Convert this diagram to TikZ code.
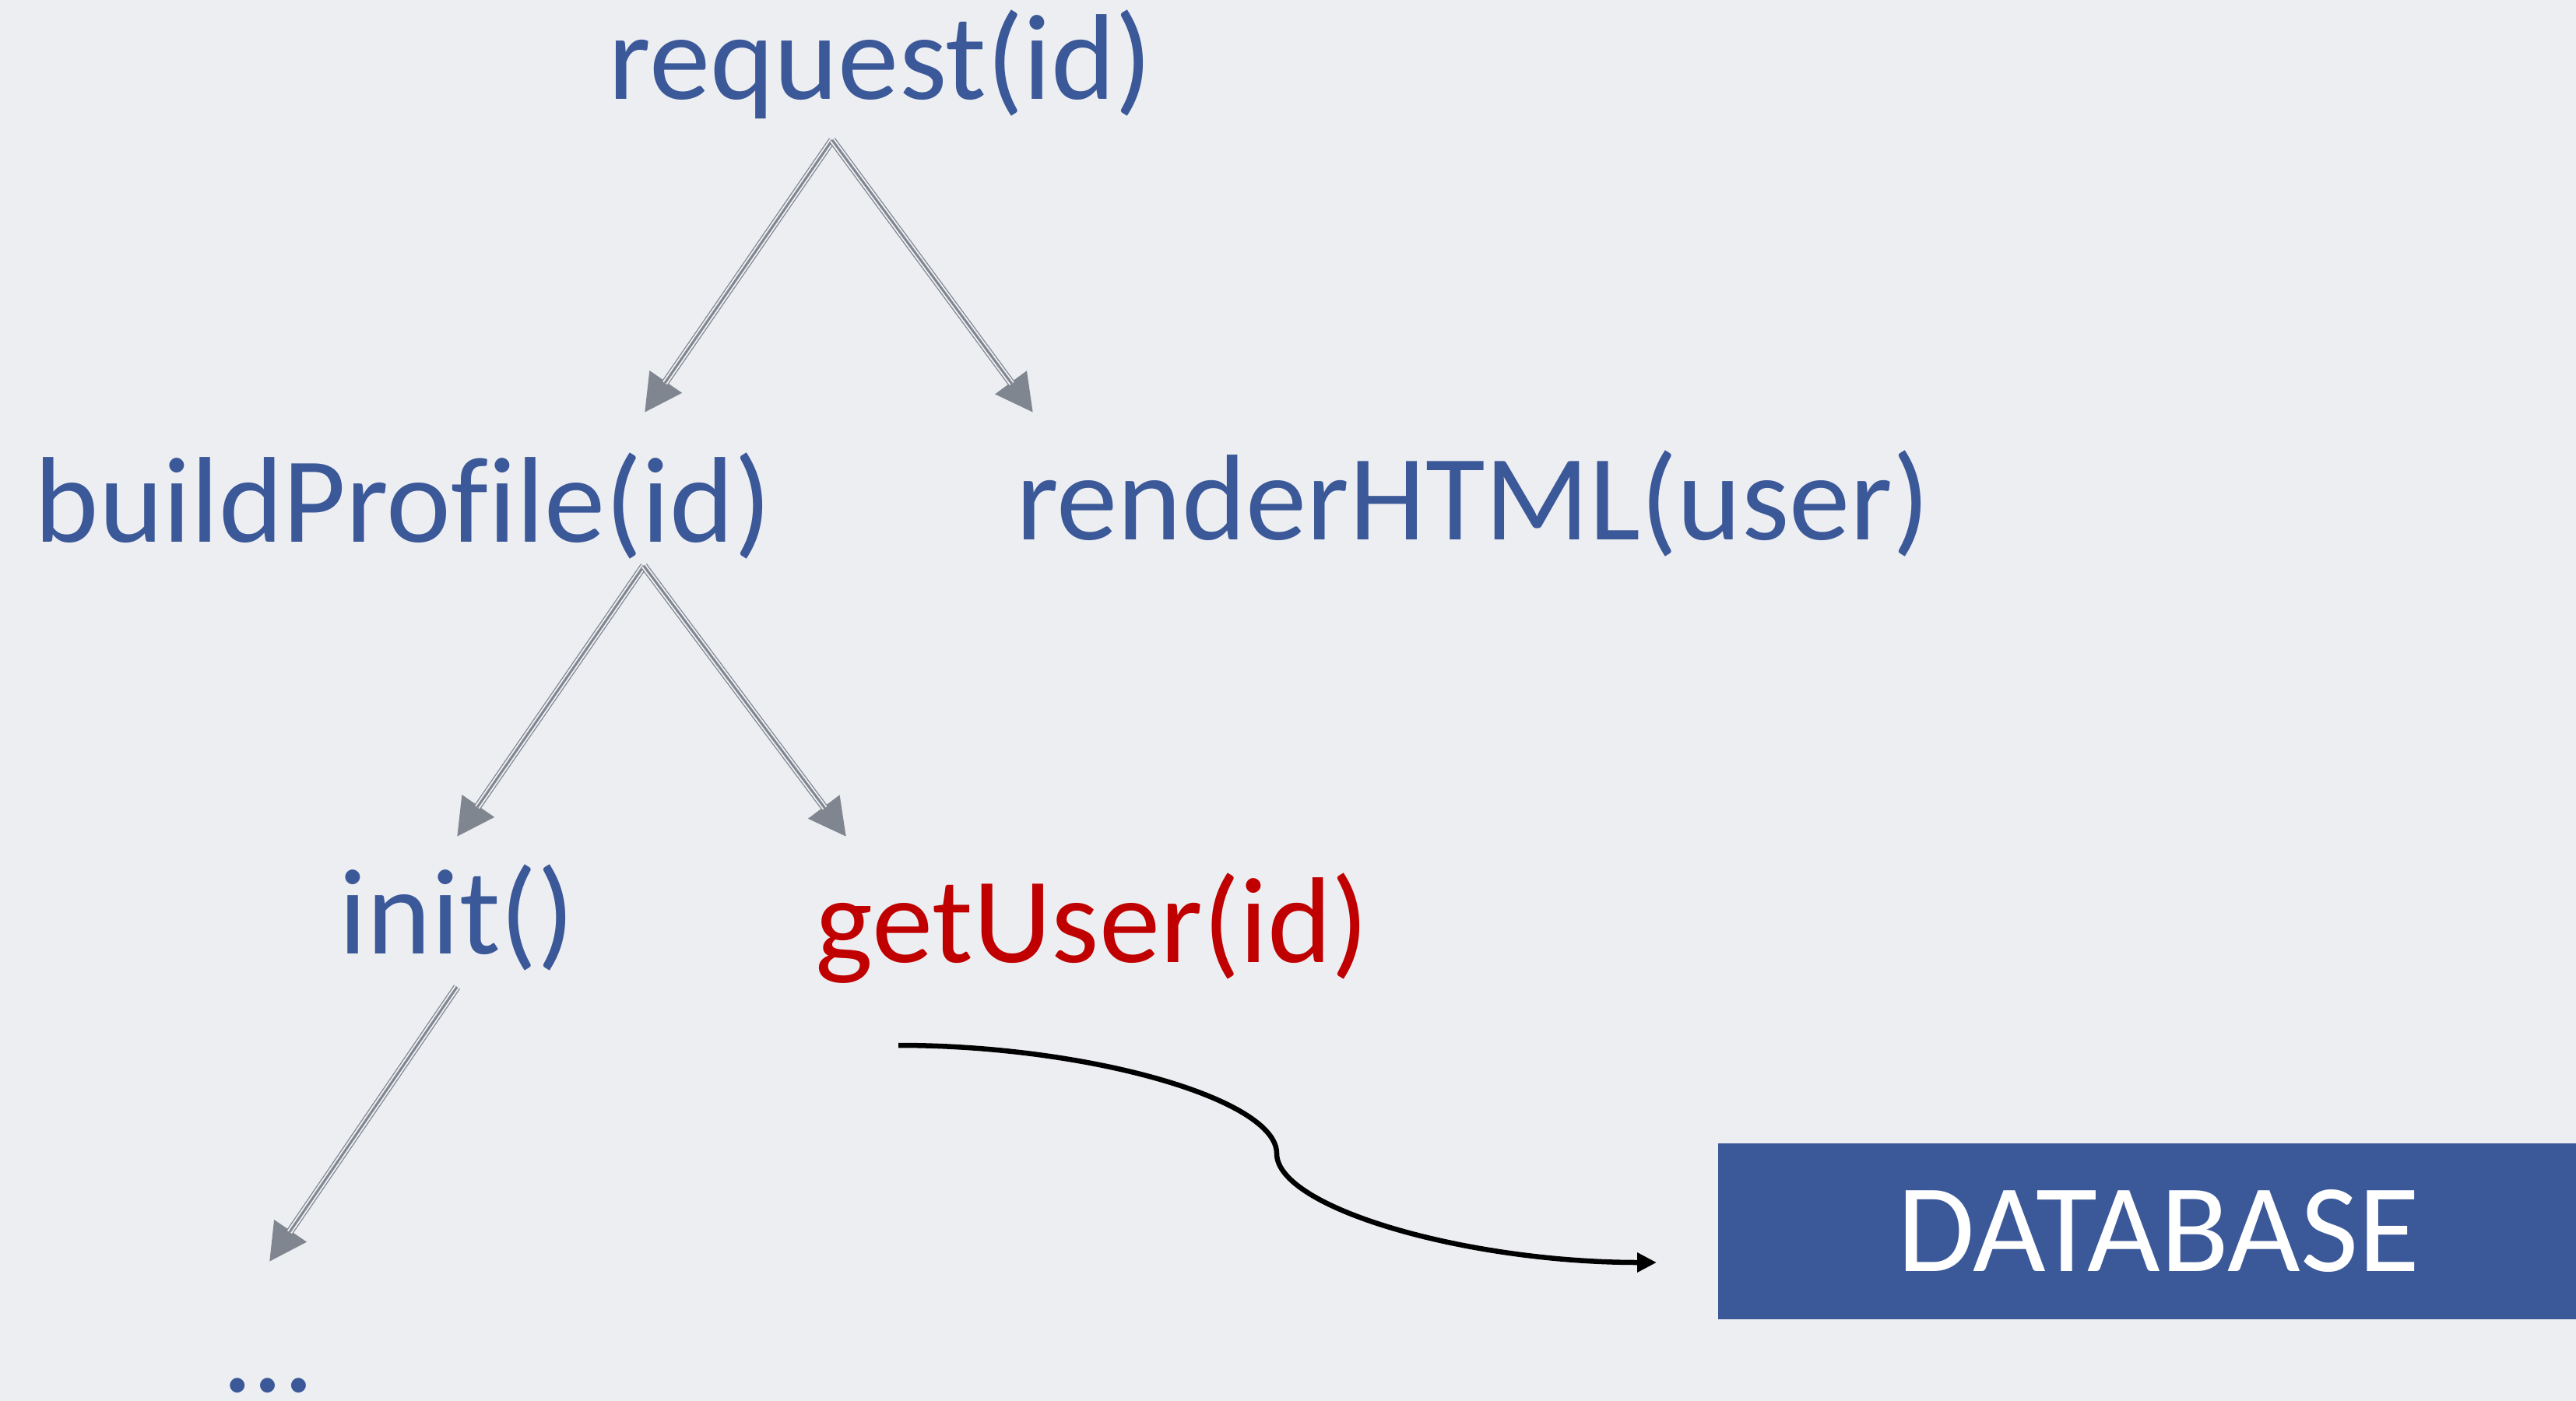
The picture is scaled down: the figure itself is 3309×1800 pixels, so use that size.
\documentclass[tikz,border=0pt]{standalone}
\usepackage{fontspec}
\setmainfont{Carlito}[Ligatures={NoCommon}]
\usetikzlibrary{arrows.meta}

\definecolor{pagebg}{RGB}{237,238,242}
\definecolor{fnblue}{RGB}{59,88,152}
\definecolor{fnred}{RGB}{192,0,0}
\definecolor{callgray}{RGB}{128,134,144}

\tikzset{
  fn/.style={inner sep=0pt, anchor=base, text=fnblue,
    font=\fontsize{44.6}{54}\selectfont},
  hot/.style={fn, text=fnred},
  % call edge: thin outer rails, thick core, filled grey head
  callarrow/.style={draw=callgray, line width=0.95mm,
    -{Triangle[length=4.8mm,width=4.8mm]},
    postaction={draw=pagebg, line width=0.69mm, shorten >=4.6mm, arrows=-},
    postaction={draw=callgray, line width=0.3mm, shorten >=4.6mm, arrows=-}},
  dbarrow/.style={draw=black, line width=0.65mm,
    -{Triangle[length=2.5mm,width=2.4mm]}},
  store/.style={fill=fnblue, text=white, inner sep=0pt,
    minimum width=11.32cm, minimum height=2.26cm,
    font=\fontsize{46}{54}\selectfont},
}

\begin{document}
\begin{tikzpicture}[x=0.01cm, y=-0.01cm]
  \useasboundingbox (0,0) rectangle (3309,1800);
  \fill[pagebg] (0,0) rectangle (3309,1800);
  \clip (0,0) rectangle (3309,1800);

  % call tree
  \node[fn]  (req)   at (1131,128)  {request(id)};
  \node[fn]  (build) at (518,696)   {buildProfile(id)};
  \node[fn]  (html)  at (1892,693)  {renderHTML(user)};
  \node[fn]  (init)  at (587,1225)  {init()};
  \node[hot] (get)   at (1403,1236) {getUser(id)};
  \node[fn]  (more)  at (345,1788)  {…};

  % storage
  \node[store] (db) at (2773,1582) {DATABASE};

  % edge end points
  \coordinate (req-fork)   at (1069,180);
  \coordinate (build-in)   at (828,530);
  \coordinate (html-in)    at (1327,530);
  \coordinate (build-fork) at (827,727);
  \coordinate (init-in)    at (587,1075);
  \coordinate (get-in)     at (1087,1075);
  \coordinate (init-out)   at (587,1268);
  \coordinate (more-in)    at (346,1621);
  \coordinate (get-out)    at (1154,1343);
  \coordinate (bend)       at (1640,1482);
  \coordinate (db-in)      at (2128,1622);

  \draw[callarrow] (req-fork) -- (build-in);
  \draw[callarrow] (req-fork) -- (html-in);
  \draw[callarrow] (build-fork) -- (init-in);
  \draw[callarrow] (build-fork) -- (get-in);
  \draw[callarrow] (init-out) -- (more-in);

  \draw[dbarrow] (get-out) .. controls +(243,0) and +(0,-70) .. (bend)
                           .. controls +(0,70) and +(-244,0) .. (db-in);
\end{tikzpicture}
\end{document}
